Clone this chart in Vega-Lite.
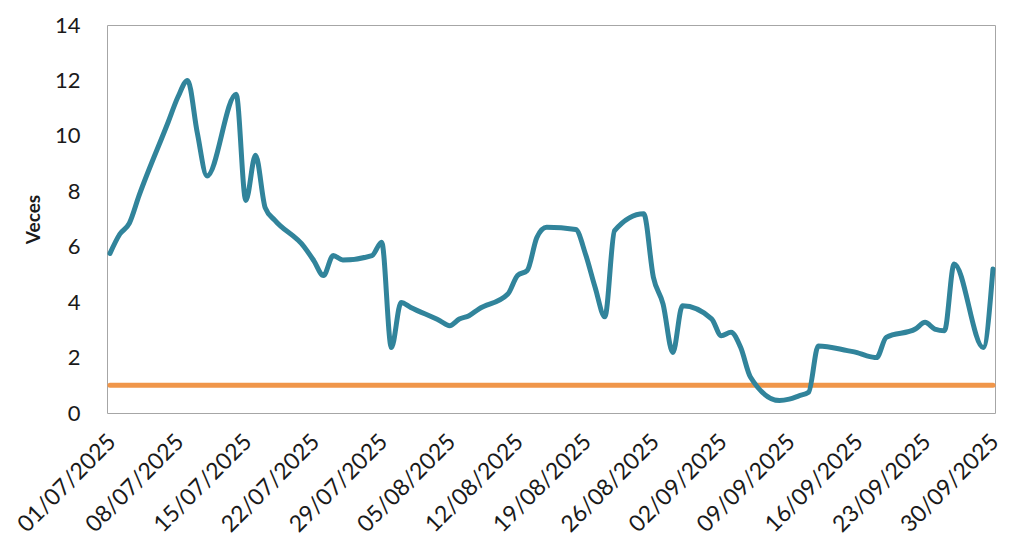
{
  "$schema": "https://vega.github.io/schema/vega-lite/v6.json",
  "width": 888,
  "height": 388,
  "autosize": "none",
  "padding": {"left": 107, "top": 25, "right": 41, "bottom": 144},
  "background": "white",
  "config": {
    "view": {"stroke": "#A6A6A6", "strokeWidth": 1},
    "font": "Lato"
  },
  "datasets": {
    "veces": [
      {"fecha": "2025-07-01", "valor": 5.76},
      {"fecha": "2025-07-02", "valor": 6.45},
      {"fecha": "2025-07-03", "valor": 6.85},
      {"fecha": "2025-07-04", "valor": 7.85},
      {"fecha": "2025-07-07", "valor": 10.5},
      {"fecha": "2025-07-08", "valor": 11.4},
      {"fecha": "2025-07-09", "valor": 12.0},
      {"fecha": "2025-07-10", "valor": 10.1},
      {"fecha": "2025-07-11", "valor": 8.55},
      {"fecha": "2025-07-14", "valor": 11.5},
      {"fecha": "2025-07-15", "valor": 7.67},
      {"fecha": "2025-07-16", "valor": 9.3},
      {"fecha": "2025-07-17", "valor": 7.4},
      {"fecha": "2025-07-18", "valor": 6.95},
      {"fecha": "2025-07-21", "valor": 6.0},
      {"fecha": "2025-07-22", "valor": 5.5},
      {"fecha": "2025-07-23", "valor": 4.96},
      {"fecha": "2025-07-24", "valor": 5.68},
      {"fecha": "2025-07-25", "valor": 5.52},
      {"fecha": "2025-07-28", "valor": 5.68},
      {"fecha": "2025-07-29", "valor": 6.16},
      {"fecha": "2025-07-30", "valor": 2.36},
      {"fecha": "2025-07-31", "valor": 3.99},
      {"fecha": "2025-08-01", "valor": 3.81},
      {"fecha": "2025-08-04", "valor": 3.33},
      {"fecha": "2025-08-05", "valor": 3.15},
      {"fecha": "2025-08-06", "valor": 3.39},
      {"fecha": "2025-08-07", "valor": 3.51},
      {"fecha": "2025-08-08", "valor": 3.75},
      {"fecha": "2025-08-11", "valor": 4.29},
      {"fecha": "2025-08-12", "valor": 4.96},
      {"fecha": "2025-08-13", "valor": 5.14},
      {"fecha": "2025-08-14", "valor": 6.34},
      {"fecha": "2025-08-15", "valor": 6.7},
      {"fecha": "2025-08-18", "valor": 6.62},
      {"fecha": "2025-08-19", "valor": 5.74},
      {"fecha": "2025-08-20", "valor": 4.53},
      {"fecha": "2025-08-21", "valor": 3.47},
      {"fecha": "2025-08-22", "valor": 6.58},
      {"fecha": "2025-08-25", "valor": 7.19},
      {"fecha": "2025-08-26", "valor": 4.9},
      {"fecha": "2025-08-27", "valor": 3.93},
      {"fecha": "2025-08-28", "valor": 2.18},
      {"fecha": "2025-08-29", "valor": 3.87},
      {"fecha": "2025-09-01", "valor": 3.4},
      {"fecha": "2025-09-02", "valor": 2.79},
      {"fecha": "2025-09-03", "valor": 2.91},
      {"fecha": "2025-09-04", "valor": 2.36},
      {"fecha": "2025-09-05", "valor": 1.3},
      {"fecha": "2025-09-08", "valor": 0.45},
      {"fecha": "2025-09-09", "valor": 0.5},
      {"fecha": "2025-09-10", "valor": 0.62},
      {"fecha": "2025-09-11", "valor": 0.75},
      {"fecha": "2025-09-12", "valor": 2.42},
      {"fecha": "2025-09-15", "valor": 2.25},
      {"fecha": "2025-09-16", "valor": 2.18},
      {"fecha": "2025-09-17", "valor": 2.06},
      {"fecha": "2025-09-18", "valor": 2.0},
      {"fecha": "2025-09-19", "valor": 2.73},
      {"fecha": "2025-09-22", "valor": 3.03},
      {"fecha": "2025-09-23", "valor": 3.27},
      {"fecha": "2025-09-24", "valor": 3.03},
      {"fecha": "2025-09-25", "valor": 2.97},
      {"fecha": "2025-09-26", "valor": 5.38},
      {"fecha": "2025-09-29", "valor": 2.36},
      {"fecha": "2025-09-30", "valor": 5.2}
    ],
    "referencia": [
      {"fecha": "2025-07-01", "valor": 1},
      {"fecha": "2025-09-30", "valor": 1}
    ]
  },
  "encoding": {
    "x": {
      "field": "fecha",
      "type": "temporal",
      "scale": {
        "type": "utc",
        "domain": [
          {"year": 2025, "month": 6, "date": 30, "hours": 16, "minutes": 35, "utc": true},
          {"year": 2025, "month": 9, "date": 30, "hours": 5, "utc": true}
        ]
      },
      "axis": {
        "title": null,
        "values": [
          {"year": 2025, "month": 7, "date": 1, "utc": true},
          {"year": 2025, "month": 7, "date": 8, "utc": true},
          {"year": 2025, "month": 7, "date": 15, "utc": true},
          {"year": 2025, "month": 7, "date": 22, "utc": true},
          {"year": 2025, "month": 7, "date": 29, "utc": true},
          {"year": 2025, "month": 8, "date": 5, "utc": true},
          {"year": 2025, "month": 8, "date": 12, "utc": true},
          {"year": 2025, "month": 8, "date": 19, "utc": true},
          {"year": 2025, "month": 8, "date": 26, "utc": true},
          {"year": 2025, "month": 9, "date": 2, "utc": true},
          {"year": 2025, "month": 9, "date": 9, "utc": true},
          {"year": 2025, "month": 9, "date": 16, "utc": true},
          {"year": 2025, "month": 9, "date": 23, "utc": true},
          {"year": 2025, "month": 9, "date": 30, "utc": true}
        ],
        "format": "%d/%m/%Y",
        "labelAngle": -45,
        "labelAlign": "right",
        "labelBaseline": "top",
        "labelFontSize": 23,
        "labelColor": "#1a1a1a",
        "labelPadding": 17,
        "labelOffset": -6,
        "labelFlush": false,
        "labelOverlap": false,
        "labelBound": false,
        "domain": false,
        "ticks": false,
        "tickSize": 0,
        "grid": false
      }
    },
    "y": {
      "field": "valor",
      "type": "quantitative",
      "scale": {"domain": [0, 14], "nice": false, "zero": true},
      "axis": {
        "title": "Veces",
        "titleFontSize": 19,
        "titleFontWeight": "bold",
        "titleColor": "#1a1a1a",
        "titlePadding": 11,
        "values": [0, 2, 4, 6, 8, 10, 12, 14],
        "labelFontSize": 22,
        "labelColor": "#1a1a1a",
        "labelPadding": 27,
        "labelFlush": false,
        "labelBound": false,
        "domain": false,
        "ticks": false,
        "tickSize": 0,
        "grid": false
      }
    }
  },
  "layer": [
    {
      "data": {"name": "referencia"},
      "mark": {"type": "line", "color": "#F0964A", "strokeWidth": 5, "strokeCap": "round"}
    },
    {
      "data": {"name": "veces"},
      "mark": {"type": "line", "color": "#31849B", "strokeWidth": 5, "strokeCap": "round", "strokeJoin": "round", "interpolate": "monotone"}
    }
  ]
}
